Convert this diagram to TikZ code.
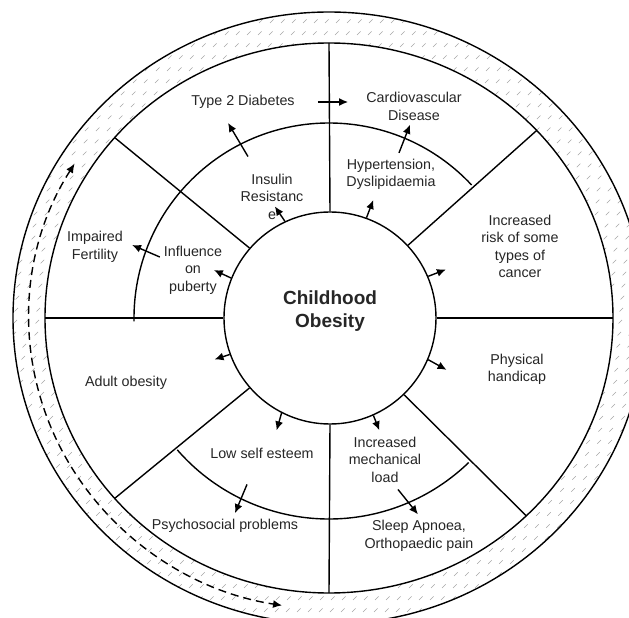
\documentclass[tikz,border=0pt]{standalone}
\usepackage{fontspec}
\setmainfont{Liberation Sans}
\usetikzlibrary{arrows.meta}

\begin{document}
\begin{tikzpicture}[x=1pt,y=1pt]
        \tikzset{ring/.style={line width=1.4pt},
            txt/.style={align=center, inner sep=1pt, text=black!85,
                font=\fontsize{14.3}{17.5}\selectfont},
            arr/.style={-{Latex[length=9pt,width=8pt]}, line width=1.4pt},
            hatch/.style={draw=black!35, line width=0.6pt, dash pattern=on 5pt off 12pt},
            band arrow/.style={{Latex[length=9pt,width=8pt]}-{Latex[length=9pt,width=8pt]},
                line width=1.4pt, dash pattern=on 8pt off 5pt}}
        \useasboundingbox (-329,-300) rectangle (300,318);
        \begin{scope}
            \clip (0,0) ellipse [x radius=316, y radius=306];
            \foreach \c in {-640,-629,...,640}
                \draw[hatch] ({\c-330},-330) -- ({\c+330},330);
        \end{scope}
        \draw[ring, fill=white] (0,0) ellipse [x radius=284, y radius=275];
        \draw[ring] (0,0) ellipse [x radius=316, y radius=306];
        \node[draw, circle, ring, minimum size=212pt, inner sep=0pt] (core) at (1,0) {};
        \foreach \a in {0,43,90,139,180,221,270,314}
            \draw[ring] (core.\a) -- (\a:284 and 275);
        \draw[ring] (43:195) arc[start angle=43, end angle=181, radius=195];
        \draw[ring] (221:201) arc[start angle=221, end angle=314, radius=201];
        \node[align=center, text=black!85, font=\bfseries\fontsize{19}{23.5}\selectfont]
            (title) at (1,7) {Childhood\\Obesity};
        \node[txt] (t2d) at (-86,216) {Type 2 Diabetes};
        \node[txt] (cvd) at (85,211.5) {Cardiovascular\\Disease};
        \node[txt] (hyp) at (62,143.5) {Hypertension,\\Dyslipidaemia};
        \node[txt] (canc) at (191,71.5) {Increased\\risk of some\\types of\\cancer};
        \node[txt] (phys) at (188,-51.5) {Physical\\handicap};
        \node[txt] (mech) at (56,-141.5) {Increased\\mechanical\\load};
        \node[txt] (sleep) at (90,-218) {Sleep Apnoea,\\Orthopaedic pain};
        \node[txt] (lse) at (-67,-135) {Low self esteem};
        \node[txt] (psy) at (-104,-208) {Psychosocial problems};
        \node[txt] (adult) at (-203,-65) {Adult obesity};
        \node[txt] (pub) at (-136,48) {Influence\\on\\puberty};
        \node[txt] (fert) at (-234,71) {Impaired\\Fertility};
        \node[txt] (ins) at (-57,121.5) {Insulin\\Resistanc\\e};
        \foreach \a/\b/\l in {115/124/18, 70/69/19, 23/21/19, -23/-29/21,
                -66/-68/16, 243/254/18, 200/198/16, 158/155/19}
            \draw[arr] (core.\a) -- ++(\b:\l);
        \draw[arr] ([xshift=22pt]t2d.east) -- ([xshift=-17pt]t2d.east -| cvd.west);
        \draw[arr] ([shift={(8,5)}]hyp.north) -- ([shift={(-4,-3)}]cvd.south);
        \draw[arr] ([shift={(-24,16)}]ins.north) -- ([shift={(-15,-13)}]t2d.south);
        \draw[arr] ([shift={(-3,13)}]pub.west) -- ([shift={(8,2)}]fert.east);
        \draw[arr] ([shift={(-15,-25)}]lse.south) -- ([shift={(10,5)}]psy.north);
        \draw[arr] ([shift={(13,-6)}]mech.south) -- ([shift={(-1,5)}]sleep.north);
        \draw[band arrow] (148:300 and 291) arc[start angle=148, end angle=261,
            x radius=300, y radius=291];
\end{tikzpicture}
\end{document}
